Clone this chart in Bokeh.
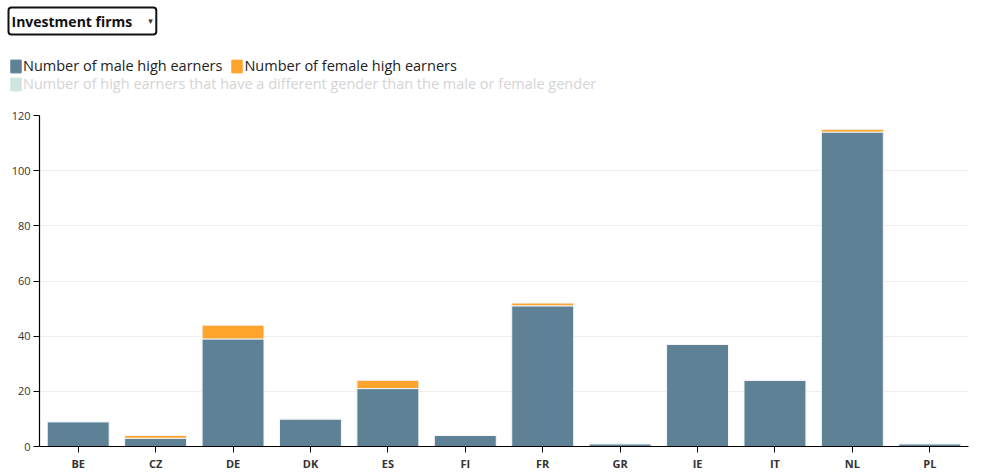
from bokeh.plotting import figure
from bokeh.layouts import column
from bokeh.models import (ColumnDataSource, FactorRange, Range1d, Legend, LegendItem, Label)
from bokeh.embed import file_html
from bokeh.resources import INLINE

countries = ["BE", "CZ", "DE", "DK", "ES", "FI", "FR", "GR", "IE", "IT", "NL", "PL"]
male = [9, 3, 39, 10, 21, 4, 51, 1, 37, 24, 114, 1]
female = [0, 1, 5, 0, 3, 0, 1, 0, 0, 0, 1, 0]
other = [0, 0, 0, 0, 0, 0, 0, 0, 0, 0, 0, 0]
y_ticks = [0, 20, 40, 60, 80, 100, 120]
series_labels = ["Number of male high earners", "Number of female high earners",
                 "Number of high earners that have a different gender than the male or female gender"]
dropdown_text = "Investment firms"

MALE_C = "#5f8196"
FEMALE_C = "#ffa42c"
OTHER_C = "#cfe6e0"
EDGE_C = "#f2f6f8"
FONT = "Open Sans"
W = 980
HEAD_H = 100

source = ColumnDataSource(dict(country=countries, male=male, female=female, other=other))

# ---------------- header: dropdown look-alike + legend ----------------
head = figure(width=W, height=HEAD_H, output_backend="svg", toolbar_location=None,
              x_range=Range1d(0, W), y_range=Range1d(HEAD_H, 0),
              x_axis_location=None, y_axis_location=None,
              min_border_left=0, min_border_right=0, min_border_top=0, min_border_bottom=0)
head.frame_align = False
head.outline_line_color = None
head.xgrid.visible = False
head.ygrid.visible = False

# hidden renderers that only supply the legend swatches
hr = []
for fld, c in (("male", MALE_C), ("female", FEMALE_C), ("other", OTHER_C)):
    r = head.vbar(x=fld, top=fld, width=1, source=source, fill_color=c, line_color=c)
    r.visible = False
    hr.append(r)

leg1 = Legend(items=[LegendItem(label=series_labels[0], renderers=[hr[0]]),
                     LegendItem(label=series_labels[1], renderers=[hr[1]])],
              orientation="horizontal", location=(9, HEAD_H - 75))
leg2 = Legend(items=[LegendItem(label=series_labels[2], renderers=[hr[2]])],
              orientation="horizontal", location=(9, HEAD_H - 93))
for lg, col in ((leg1, "#222222"), (leg2, "#d4d4d4")):
    lg.padding = 0
    lg.margin = 0
    lg.spacing = 8
    lg.label_standoff = 1
    lg.glyph_width = 13
    lg.glyph_height = 16
    lg.label_height = 16
    lg.label_text_font = FONT
    lg.label_text_font_size = "14.5px"
    lg.label_text_color = col
    lg.border_line_color = None
    lg.background_fill_alpha = 0
    lg.click_policy = "none"
    head.add_layout(lg, "center")

box = Label(x=8, y=7, text=dropdown_text, anchor="top_left",
            text_font=FONT, text_font_size="14px", text_font_style="bold",
            text_color="#111111", text_align="left", text_baseline="top",
            background_fill_color="white", border_line_color="#111111",
            border_line_width=2, border_radius=3,
            padding=dict(left=3, right=24, top=4, bottom=4))
head.add_layout(box)
arrow = Label(x=150, y=20, text="▾", text_font="DejaVu Sans", text_font_size="9px",
              text_color="#333333", text_align="center", text_baseline="middle")
head.add_layout(arrow)

# ---------------- main chart ----------------
p = figure(width=W, height=373, output_backend="svg", toolbar_location=None,
           x_range=FactorRange(factors=countries, range_padding=0),
           y_range=Range1d(0, 120),
           min_border_left=39, min_border_right=W - 39 - 929, min_border_top=15, min_border_bottom=27)
p.frame_align = False
p.outline_line_color = None

rs = p.vbar_stack(["male", "female", "other"], x="country", width=0.8, source=source,
                  color=[MALE_C, FEMALE_C, OTHER_C], line_color=EDGE_C, line_width=1)
rs[2].visible = False

p.xgrid.grid_line_color = None
p.ygrid.grid_line_color = "#eeeeee"
p.ygrid.ticker = y_ticks
p.yaxis.ticker = y_ticks
for ax in (p.xaxis[0], p.yaxis[0]):
    ax.axis_line_color = "#000000"
    ax.axis_line_width = 1.2
    ax.major_tick_line_color = "#000000"
    ax.major_tick_out = 6
    ax.major_tick_in = 0
    ax.minor_tick_line_color = None
    ax.major_label_text_font = FONT
    ax.major_label_text_font_size = "11px"
    ax.major_label_text_color = "#333333"
    ax.major_label_standoff = 3
p.xaxis.major_label_text_font_style = "bold"

layout = column(head, p, spacing=0)
open("out.html", "w").write(file_html(layout, INLINE))
